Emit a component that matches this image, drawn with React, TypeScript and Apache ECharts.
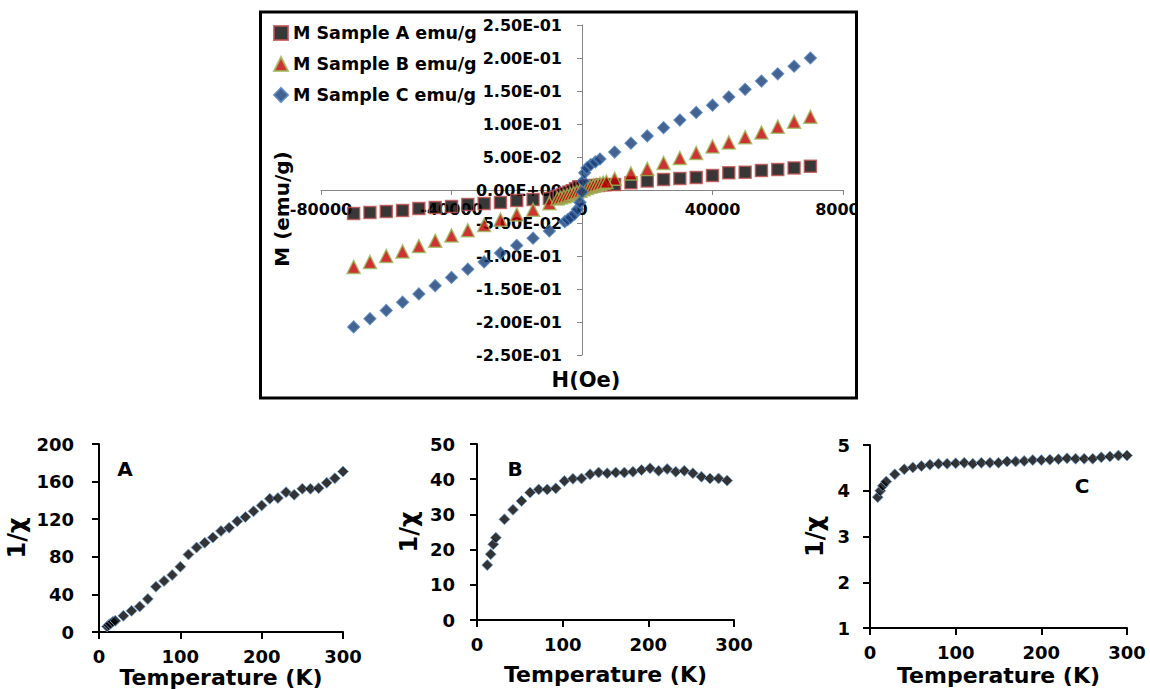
import React, { useEffect, useRef } from "react";
import * as echarts from "echarts";

// ---- Top chart: M vs H ----
const fieldCoarse = [-70000, -65000, -60000, -55000, -50000, -45000, -40000, -35000, -30000, -25000, -20000, -15000, -10000,
  10000, 15000, 20000, 25000, 30000, 35000, 40000, 45000, 50000, 55000, 60000, 65000, 70000];
const mA = [-0.0355, -0.034, -0.0325, -0.031, -0.028, -0.0265, -0.025, -0.022, -0.0204, -0.019, -0.016, -0.0143, -0.0128,
  0.0085, 0.011, 0.0135, 0.016, 0.0175, 0.019, 0.022, 0.026, 0.027, 0.0295, 0.031, 0.0335, 0.036];
const mB = [-0.1165, -0.109, -0.1, -0.093, -0.085, -0.077, -0.069, -0.061, -0.053, -0.045, -0.037, -0.03, -0.02,
  0.017, 0.025, 0.032, 0.041, 0.0485, 0.056, 0.066, 0.072, 0.08, 0.087, 0.096, 0.1035, 0.111];
const mC = [-0.2075, -0.195, -0.1825, -0.17, -0.1575, -0.145, -0.1325, -0.12, -0.109, -0.0955, -0.084, -0.073, -0.062,
  0.0575, 0.071, 0.082, 0.0945, 0.106, 0.1175, 0.1285, 0.141, 0.1525, 0.165, 0.176, 0.1875, 0.2];

const fieldFineA = [-8000, -7000, -6000, -5000, -4000, -3000, -2000, -1000, 0, 1000, 2000, 3000, 4000, 5000, 6000, 7000];
const mFineA = [-0.011, -0.009, -0.007, -0.005, -0.003, -0.001, 0.002, 0.005, 0.005, 0.005, 0.006, 0.006, 0.007, 0.007, 0.008, 0.008];
const fieldFineB = [-7500, -6500, -5500, -4500, -3500, -2500, -1500, -500, 500, 1500, 2500, 3500, 4500, 5500, 6500, 7500];
const mFineB = [-0.013, -0.0115, -0.0098, -0.0082, -0.0065, -0.0048, -0.003, -0.001, 0.001, 0.003, 0.0048, 0.0064, 0.008, 0.0095, 0.011, 0.0125];
const fieldFineC = [-5300, -4400, -3500, -2300, -1400, -600, 0, 350, 800, 1500, 2700, 4100, 5500];
const mFineC = [-0.048, -0.045, -0.0415, -0.0365, -0.029, -0.019, -0.003, 0.0135, 0.026, 0.0335, 0.0385, 0.0425, 0.047];

const legendNames = ["M Sample A emu/g", "M Sample B emu/g", "M Sample C emu/g"];
const hTicks = { min: -80000, max: 80000, interval: 40000 };
const mTicks = { min: -0.25, max: 0.25, interval: 0.05 };

// ---- Bottom charts: 1/chi vs T ----
const tempA = [10, 12, 14, 17, 20, 30, 40, 50, 60, 70, 80, 90, 100, 110, 120, 130, 140, 150, 160, 170, 180, 190, 200, 210, 220, 230, 240, 250, 260, 270, 280, 290, 300];
const invChiA = [6, 7.5, 9, 11, 12, 17.3, 22.6, 27.2, 35.3, 48.3, 54.3, 60.7, 69.5, 82.5, 90, 95, 100.5, 107.6, 111, 117.8, 122.4, 128.4, 134.7, 141.8, 142.5, 148.8, 146, 152.4, 152.4, 153, 158.7, 163.6, 170.7];
const tempB = [12, 16, 19, 22, 32, 42, 52, 62, 72, 82, 92, 102, 112, 122, 132, 142, 152, 162, 172, 182, 192, 202, 212, 222, 232, 242, 252, 262, 272, 282, 292];
const invChiB = [15.6, 18.7, 21.5, 23.4, 28.6, 31.3, 33.8, 36.2, 37.1, 37.1, 37.4, 39.5, 40.1, 40.2, 41.4, 41.9, 41.7, 41.9, 41.9, 42.1, 42.6, 43.1, 42.4, 42.9, 42.1, 42.4, 41.7, 40.7, 40.2, 40.2, 39.6];
const tempC = [9, 12, 15, 19, 29, 40, 50, 60, 70, 80, 90, 100, 110, 120, 130, 140, 150, 160, 170, 180, 190, 200, 210, 220, 230, 240, 250, 260, 270, 280, 290, 300];
const invChiC = [3.86, 4.0, 4.11, 4.2, 4.36, 4.47, 4.51, 4.54, 4.57, 4.59, 4.59, 4.6, 4.61, 4.59, 4.61, 4.61, 4.61, 4.64, 4.64, 4.65, 4.67, 4.67, 4.68, 4.69, 4.71, 4.7, 4.7, 4.7, 4.73, 4.75, 4.77, 4.77];

const tTicks = { min: 0, max: 300, interval: 100 };
const yTicksA = { min: 0, max: 200, interval: 40 };
const yTicksB = { min: 0, max: 50, interval: 10 };
const yTicksC = { min: 1, max: 5, interval: 1 };

const FONT = "DejaVu Sans";

// top plot area (pixels) — the axes cross at the data origin
const TOP_GRID = { left: 321, right: 307, top: 25, bottom: 334 };
const TOP_W = 1150 - TOP_GRID.left - TOP_GRID.right;
const TOP_H = 689 - TOP_GRID.top - TOP_GRID.bottom;

function zip(xs: number[], ys: number[]) {
  return xs.map((x, i) => [x, ys[i]]);
}

function sci(v: number) {
  if (Math.abs(v) < 1e-12) return "0.00E+00";
  const s = v.toExponential(2);
  const [m, e] = s.split("e");
  const ei = parseInt(e, 10);
  return m + "E" + (ei < 0 ? "-" : "+") + String(Math.abs(ei)).padStart(2, "0");
}

const label = (size: number, margin: number, extra: any = {}) => ({
  fontFamily: FONT, fontWeight: "bold", fontSize: size, color: "#000", margin, ...extra,
});

function bottomX(gridIndex: number, nameGap: number) {
  return {
    type: "value", gridIndex, ...tTicks,
    name: "Temperature (K)", nameLocation: "middle", nameGap,
    nameTextStyle: { fontFamily: FONT, fontWeight: "bold", fontSize: 22, color: "#000" },
    axisLine: { onZero: false, lineStyle: { color: "#000", width: 2 } },
    axisTick: { show: true, length: 7, lineStyle: { color: "#000", width: 2 } },
    axisLabel: label(18, 15),
    splitLine: { show: false },
  };
}
function bottomY(gridIndex: number, ticks: any, nameGap: number, margin: number) {
  return {
    type: "value", gridIndex, ...ticks,
    name: "1/χ", nameLocation: "middle", nameGap,
    nameTextStyle: { fontFamily: FONT, fontWeight: "bold", fontSize: 24, color: "#000" },
    axisLine: { onZero: false, lineStyle: { color: "#000", width: 2 } },
    axisTick: { show: true, length: 7, lineStyle: { color: "#000", width: 2 } },
    axisLabel: label(18, margin),
    splitLine: { show: false },
  };
}
const bottomStyle = { color: "#000", borderColor: "#7aa6d8", borderWidth: 1 };

export default function App() {
  const ref = useRef<HTMLDivElement>(null);
  useEffect(() => {
    if (!ref.current) return;
    const chart = echarts.init(ref.current, undefined, { renderer: "svg" });
    const xZeroFrac = (0 - hTicks.min) / (hTicks.max - hTicks.min);
    const yZeroFrac = (0 - mTicks.min) / (mTicks.max - mTicks.min);
    const option: any = {
      animation: false,
      backgroundColor: "#fff",
      textStyle: { fontFamily: FONT },
      legend: {
        left: 268, top: 19, orient: "vertical", itemWidth: 14, itemHeight: 14, itemGap: 13,
        textStyle: { fontFamily: FONT, fontWeight: "bold", fontSize: 17.5, color: "#000" },
        data: [
          { name: legendNames[0], icon: "rect" },
          { name: legendNames[1], icon: "triangle" },
          { name: legendNames[2], icon: "diamond" },
        ],
      },
      grid: [
        TOP_GRID,
        { left: 99, right: 807, top: 444, bottom: 56 },
        { left: 477, right: 416, top: 444, bottom: 69 },
        { left: 870, right: 23, top: 445, bottom: 61 },
      ],
      xAxis: [
        {
          type: "value", gridIndex: 0, ...hTicks,
          offset: -Math.round(TOP_H * yZeroFrac),
          axisLine: { onZero: false, lineStyle: { color: "#868686", width: 1 } },
          axisTick: { show: true, length: 5, lineStyle: { color: "#868686" } },
          axisLabel: label(16, 11, { formatter: (v: number) => String(v) }),
          splitLine: { show: false },
        },
        bottomX(1, 30),
        bottomX(2, 43),
        bottomX(3, 36),
      ],
      yAxis: [
        {
          type: "value", gridIndex: 0, ...mTicks,
          offset: -Math.round(TOP_W * xZeroFrac),
          axisLine: { onZero: false, lineStyle: { color: "#868686", width: 1 } },
          axisTick: { show: true, length: 5, lineStyle: { color: "#868686" } },
          axisLabel: label(16, 20, { formatter: (v: number) => sci(v) }),
          splitLine: { show: false },
        },
        bottomY(1, yTicksA, 70, 25),
        bottomY(2, yTicksB, 56, 22),
        bottomY(3, yTicksC, 43, 20),
      ],
      series: [
        {
          name: legendNames[0], type: "scatter", xAxisIndex: 0, yAxisIndex: 0,
          symbol: "rect", symbolSize: 12,
          itemStyle: { color: "#050505", borderColor: "#c0504d", borderWidth: 1.5 },
          data: [...zip(fieldCoarse, mA), ...zip(fieldFineA, mFineA)],
        },
        {
          name: legendNames[1], type: "scatter", xAxisIndex: 0, yAxisIndex: 0,
          symbol: "triangle", symbolSize: 13,
          itemStyle: { color: "#c00000", borderColor: "#9bbb59", borderWidth: 1.5 },
          data: [...zip(fieldCoarse, mB), ...zip(fieldFineB, mFineB)],
        },
        {
          name: legendNames[2], type: "scatter", xAxisIndex: 0, yAxisIndex: 0,
          symbol: "diamond", symbolSize: 12,
          itemStyle: { color: "#163c75", borderColor: "#4f81bd", borderWidth: 1.2 },
          data: [...zip(fieldCoarse, mC), ...zip(fieldFineC, mFineC)],
        },
        {
          name: "A", type: "scatter", xAxisIndex: 1, yAxisIndex: 1, symbol: "diamond", symbolSize: 11,
          itemStyle: bottomStyle, data: zip(tempA, invChiA),
        },
        {
          name: "B", type: "scatter", xAxisIndex: 2, yAxisIndex: 2, symbol: "diamond", symbolSize: 11,
          itemStyle: bottomStyle, data: zip(tempB, invChiB),
        },
        {
          name: "C", type: "scatter", xAxisIndex: 3, yAxisIndex: 3, symbol: "diamond", symbolSize: 11,
          itemStyle: bottomStyle, data: zip(tempC, invChiC),
        },
      ],
      graphic: [
        { type: "rect", z: 100, shape: { x: 858, y: 0, width: 292, height: 402 }, style: { fill: "#fff" } },
        { type: "rect", z: 101, shape: { x: 260.5, y: 12, width: 596, height: 386 }, style: { fill: "none", stroke: "#000", lineWidth: 3 } },
        {
          type: "text", z: 101, x: 282, y: 209, rotation: Math.PI / 2,
          style: { text: "M (emu/g)", fontFamily: FONT, fontWeight: "bold", fontSize: 20, fill: "#000", align: "center", verticalAlign: "middle" },
        },
        {
          type: "text", z: 101, x: 586, y: 380,
          style: { text: "H(Oe)", fontFamily: FONT, fontWeight: "bold", fontSize: 21, fill: "#000", align: "center", verticalAlign: "middle" },
        },
        {
          type: "text", z: 101, x: 125, y: 469,
          style: { text: "A", fontFamily: FONT, fontWeight: "bold", fontSize: 20, fill: "#000", align: "center", verticalAlign: "middle" },
        },
        {
          type: "text", z: 101, x: 515, y: 469,
          style: { text: "B", fontFamily: FONT, fontWeight: "bold", fontSize: 20, fill: "#000", align: "center", verticalAlign: "middle" },
        },
        {
          type: "text", z: 101, x: 1082, y: 486,
          style: { text: "C", fontFamily: FONT, fontWeight: "bold", fontSize: 20, fill: "#000", align: "center", verticalAlign: "middle" },
        },
      ],
    };
    chart.setOption(option);
    return () => chart.dispose();
  }, []);
  return <div ref={ref} style={{ position: "absolute", left: 0, top: 0, width: 1150, height: 689 }} />;
}
